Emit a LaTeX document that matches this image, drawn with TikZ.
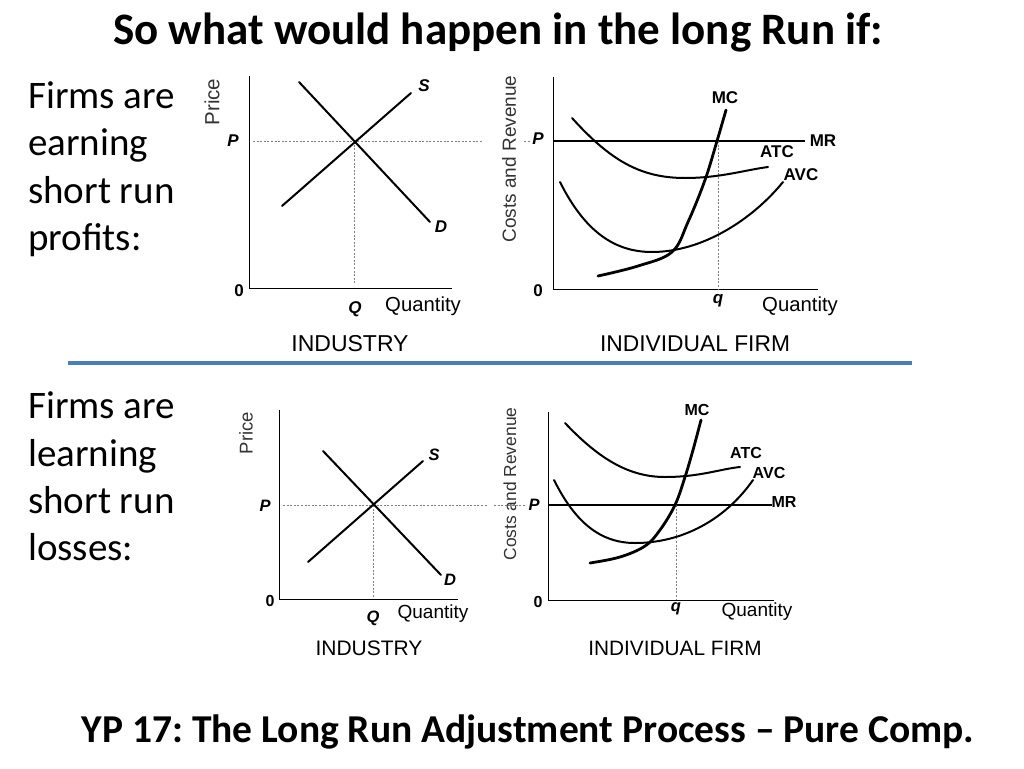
\documentclass[tikz,border=0pt]{standalone}
\usepackage{fontspec}
\setmainfont{Carlito}
\newfontfamily\arial{Liberation Sans}
\definecolor{barblue}{HTML}{4A7EBB}
\definecolor{axlab}{HTML}{333333}
\frenchspacing
\begin{document}
\begin{tikzpicture}[x=1pt,y=-1pt,
  title/.style={font=\fontsize{45}{52}\selectfont\bfseries, inner sep=0pt, anchor=base},
  side/.style={font=\fontsize{39}{46}\selectfont, anchor=base west, inner sep=0pt},
  axis/.style={line width=1pt, black},
  curve/.style={line width=2pt, black, line cap=round},
  mccurve/.style={line width=2.8pt, black, line cap=round},
  guide/.style={line width=0.8pt, gray, dash pattern=on 2pt off 1.6pt},
  axname/.style={font=\arial\fontsize{20.5}{23}\selectfont, text=axlab, inner sep=0pt},
  caption/.style={font=\arial\fontsize{23}{26}\selectfont, inner sep=0pt, anchor=base},
  qty/.style={font=\arial\fontsize{20.3}{23}\selectfont, inner sep=0pt},
  blab/.style={font=\arial\bfseries\fontsize{17}{19}\selectfont, inner sep=0pt},
  ilab/.style={font=\arial\bfseries\itshape\fontsize{17}{19}\selectfont, inner sep=0pt},
  blabs/.style={font=\arial\bfseries\fontsize{16}{18}\selectfont, inner sep=0pt},
  ilabs/.style={font=\arial\bfseries\itshape\fontsize{16.5}{18}\selectfont, inner sep=0pt}
]
\useasboundingbox (0,0) rectangle (1024,768);
\fill[white] (0,0) rectangle (1024,768);

% titles
\node[title] (t1) at (498,45) {So what would happen in the long Run if:};
\node[title, font=\fontsize{39.5}{46}\selectfont\bfseries] (t2) at (528,742) {YP 17: The Long Run Adjustment Process – Pure Comp.};

% side text
\node[side] (a1) at (28,108) {Firms are};
\node[side] (a2) at (28,155) {earning};
\node[side] (a3) at (28,203) {short run};
\node[side] (a4) at (28,250) {profits:};
\node[side] (b1) at (28,418) {Firms are};
\node[side] (b2) at (28,466) {learning};
\node[side] (b3) at (28,513) {short run};
\node[side] (b4) at (28,560) {losses:};

% separator
\coordinate (s1) at (68,363); \coordinate (s2) at (912,363);
\draw[barblue, line width=4pt] (s1) -- (s2);

% ===== top industry =====
\coordinate (o1) at (249,288);
\coordinate (yt1) at (249,76);
\coordinate (xe1) at (452,288);
\draw[axis] (yt1) -- (o1) -- (xe1);
\coordinate (e1) at (354,141);
\coordinate (pl1) at (253,141); \coordinate (pr1) at (482,141);
\coordinate (qb1) at (354,284);
\draw[guide] (pl1) -- (pr1);
\draw[guide] (e1) -- (qb1);
\coordinate (d1a) at (299,82); \coordinate (d1b) at (430,222);
\coordinate (s1a) at (282,206); \coordinate (s1b) at (411,93);
\draw[curve] (d1a) -- (d1b);
\draw[curve] (s1a) -- (s1b);
\node[axname, rotate=90] (pr1lab) at (212,102) {Price};
\node[ilab] (P1) at (233,141) {P};
\node[ilab] (S1) at (424,86) {S};
\node[ilab] (D1) at (441,227) {D};
\node[blab] (z1) at (239,291) {0};
\node[ilab] (Q1) at (355,309) {Q};
\node[qty] (qt1) at (423,306) {Quantity};
\node[caption] (c1) at (350,351) {INDUSTRY};

% ===== top firm =====
\coordinate (o2) at (553,289);
\coordinate (yt2) at (553,77);
\coordinate (xe2) at (818,289);
\draw[axis] (yt2) -- (o2) -- (xe2);
\coordinate (mrl2) at (553,141); \coordinate (mrr2) at (805,141);
\draw[line width=1.5pt] (mrl2) -- (mrr2);
\coordinate (pd2a) at (524,141); \coordinate (pd2b) at (530,141);
\draw[guide] (pd2a) -- (pd2b);
\coordinate (qt2top) at (718,141); \coordinate (qt2bot) at (718,289);
\draw[guide] (qt2top) -- (qt2bot);
\draw[curve] (572,118) .. controls (610,160) and (640,178) .. (685,178) .. controls (720,178) and (745,170) .. (768,167);
\draw[curve] (560,182) .. controls (585,232) and (615,252) .. (652,252) .. controls (702,252) and (752,220) .. (783,182);
\draw[mccurve] plot[smooth, tension=0.6] coordinates {(598,276) (638,266) (672,252) (688,222) (705,180) (717,141) (726,110)};
\node[axname, rotate=90, font=\arial\fontsize{19}{21}\selectfont] (cr2) at (509,159) {Costs and Revenue};
\node[ilab] (P2) at (538,139) {P};
\node[blab] (MC2) at (725,98) {MC};
\node[blab] (MR2) at (823,141) {MR};
\node[blab] (ATC2) at (777,152) {ATC};
\node[blab] (AVC2) at (801,175) {AVC};
\node[blab] (z2) at (538,291) {0};
\node[ilab] (q2) at (718,301) {q};
\node[qty] (qt2) at (800,306) {Quantity};
\node[caption, font=\arial\fontsize{22.8}{26}\selectfont] (c2) at (695,351) {INDIVIDUAL FIRM};

% ===== bottom industry =====
\coordinate (o3) at (279,599);
\coordinate (yt3) at (279,410);
\coordinate (xe3) at (458,599);
\draw[axis] (yt3) -- (o3) -- (xe3);
\coordinate (e3) at (373,505);
\coordinate (pl3) at (283,505); \coordinate (pr3) at (488,505);
\coordinate (qb3) at (373,597);
\draw[guide] (pl3) -- (pr3);
\draw[guide] (e3) -- (qb3);
\coordinate (d3a) at (323,451); \coordinate (d3b) at (441,575);
\coordinate (s3a) at (308,562); \coordinate (s3b) at (423,461);
\draw[curve] (d3a) -- (d3b);
\draw[curve] (s3a) -- (s3b);
\node[axname, rotate=90, font=\arial\fontsize{18.5}{21}\selectfont] (pr3lab) at (246,433) {Price};
\node[ilabs] (P3) at (265,506) {P};
\node[ilabs] (S3) at (434,455) {S};
\node[ilabs] (D3) at (450,580) {D};
\node[blabs] (z3) at (270,601) {0};
\node[ilabs] (Q3) at (373,618) {Q};
\node[qty, font=\arial\fontsize{19}{21}\selectfont] (qt3) at (433,614) {Quantity};
\node[caption, font=\arial\fontsize{21}{24}\selectfont] (c3) at (369,655.5) {INDUSTRY};

% ===== bottom firm =====
\coordinate (o4) at (548,600);
\coordinate (yt4) at (548,412);
\coordinate (xe4) at (774,600);
\draw[axis] (yt4) -- (o4) -- (xe4);
\coordinate (mrl4) at (548,505); \coordinate (mrr4) at (772,505);
\draw[line width=1.5pt] (mrl4) -- (mrr4);
\coordinate (pd4a) at (494,505); \coordinate (pd4b) at (526,505);
\draw[guide] (pd4a) -- (pd4b);
\coordinate (qt4top) at (676,505); \coordinate (qt4bot) at (676,600);
\draw[guide] (qt4top) -- (qt4bot);
\draw[curve] (565,423) .. controls (600,460) and (630,477) .. (665,477) .. controls (700,477) and (720,469) .. (740,467);
\draw[curve] (554,480) .. controls (575,522) and (600,543) .. (635,543) .. controls (682,543) and (725,520) .. (753,480);
\draw[mccurve] plot[smooth, tension=0.6] coordinates {(590,563) (620,557) (645,546) (660,530) (675,505) (685,477) (693,450) (701,420)};
\node[axname, rotate=90, font=\arial\fontsize{17.4}{20}\selectfont] (cr4) at (510,484) {Costs and Revenue};
\node[ilabs] (P4) at (534,505) {P};
\node[blabs] (MC4) at (697,410) {MC};
\node[blabs] (MR4) at (784,502) {MR};
\node[blabs] (ATC4) at (746,453) {ATC};
\node[blabs] (AVC4) at (769,473) {AVC};
\node[blabs] (z4) at (538,602) {0};
\node[ilabs] (q4) at (676,609) {q};
\node[qty, font=\arial\fontsize{19}{21}\selectfont] (qt4) at (757,612) {Quantity};
\node[caption, font=\arial\fontsize{20.8}{24}\selectfont] (c4) at (675,655.5) {INDIVIDUAL FIRM};
\end{tikzpicture}
\end{document}
